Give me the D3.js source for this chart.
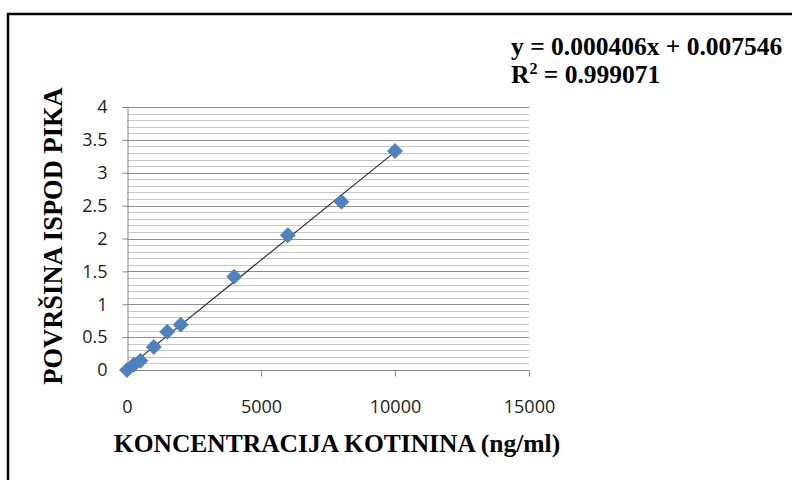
<!DOCTYPE html>
<html>
<head>
<meta charset="utf-8">
<script src="https://cdn.jsdelivr.net/npm/d3@7"></script>
<style>
  html, body { margin: 0; padding: 0; background: #fff; }
  svg { display: block; }
</style>
</head>
<body>
<svg id="chart" width="792" height="480"></svg>
<script>
// Calibration data: cotinine concentration vs. peak area
const concentrations = [0, 250, 500, 1000, 1500, 2000, 4000, 6000, 8000, 10000];
const peakAreas      = [0, 0.08, 0.14, 0.35, 0.58, 0.69, 1.42, 2.05, 2.56, 3.33];

const xTicks = [0, 5000, 10000, 15000];
const yTicks = [0, 0.5, 1, 1.5, 2, 2.5, 3, 3.5, 4];
const yMinorStep = 0.1;

const equationText = "y = 0.000406x + 0.007546";
const r2Value = "0.999071";
const xTitle = "KONCENTRACIJA KOTININA (ng/ml)";
const yTitle = "POVRŠINA ISPOD PIKA";

const svg = d3.select("#chart");
const W = 792, H = 480;

const plot = { left: 127, right: 529, top: 107, bottom: 370 };

const x = d3.scaleLinear().domain([0, 15000]).range([plot.left, plot.right]);
const y = d3.scaleLinear().domain([0, 4]).range([plot.bottom, plot.top]);

// Outer frame (left and top edges visible)
svg.append("path")
  .attr("d", `M8,${H} L8,14 L${W},14`)
  .attr("fill", "none")
  .attr("stroke", "#000")
  .attr("stroke-width", 2.5);

// Minor gridlines
const minor = d3.range(0, 4 + 1e-9, yMinorStep).filter(v => Math.abs(v * 2 - Math.round(v * 2)) > 1e-6);
svg.append("g").selectAll("line").data(minor).join("line")
  .attr("x1", plot.left).attr("x2", plot.right)
  .attr("y1", d => Math.round(y(d)) + 0.5).attr("y2", d => Math.round(y(d)) + 0.5)
  .attr("stroke", "#c6c6c6").attr("stroke-width", 1);

// Major gridlines
svg.append("g").selectAll("line").data(yTicks.filter(v => v > 0)).join("line")
  .attr("x1", plot.left).attr("x2", plot.right)
  .attr("y1", d => Math.round(y(d)) + 0.5).attr("y2", d => Math.round(y(d)) + 0.5)
  .attr("stroke", "#8e8e8e").attr("stroke-width", 1);

// Axes
const axisColor = "#868686";
const yAxis = svg.append("g")
  .attr("transform", `translate(${plot.left + 0.5},0)`)
  .call(d3.axisLeft(y).tickValues(yTicks).tickSize(5).tickPadding(15).tickFormat(d3.format("")));
const xAxis = svg.append("g")
  .attr("transform", `translate(0,${plot.bottom + 0.5})`)
  .call(d3.axisBottom(x).tickValues(xTicks).tickSize(6).tickPadding(24).tickFormat(d3.format("")));

[yAxis, xAxis].forEach(g => {
  g.select(".domain").attr("stroke", axisColor);
  g.selectAll(".tick line").attr("stroke", axisColor);
  g.selectAll(".tick text")
    .attr("fill", "#222")
    .style("font-family", "'Open Sans', sans-serif")
    .style("font-size", "18px");
});
xAxis.select(".domain").attr("d", `M${plot.left},0H${plot.right}`);

// Least-squares trendline through the calibration points
const n = concentrations.length;
const mx = d3.mean(concentrations), my = d3.mean(peakAreas);
let sxy = 0, sxx = 0;
for (let i = 0; i < n; i++) {
  sxy += (concentrations[i] - mx) * (peakAreas[i] - my);
  sxx += (concentrations[i] - mx) ** 2;
}
const slope = sxy / sxx, intercept = my - slope * mx;
const x0 = d3.min(concentrations), x1 = d3.max(concentrations);
svg.append("line")
  .attr("x1", x(x0)).attr("y1", y(intercept + slope * x0))
  .attr("x2", x(x1)).attr("y2", y(intercept + slope * x1))
  .attr("stroke", "#333").attr("stroke-width", 1.2);

// Diamond markers
const pts = concentrations.map((c, i) => [c, peakAreas[i]]);
svg.append("g").selectAll("path").data(pts).join("path")
  .attr("transform", d => `translate(${x(d[0])},${y(d[1])})`)
  .attr("d", "M0,-7.5L7.5,0L0,7.5L-7.5,0Z")
  .attr("fill", "#4f81bd")
  .attr("stroke", "#4a7ab3")
  .attr("stroke-width", 0.8);

// Axis titles
const serif = "'Liberation Serif', 'Times New Roman', serif";
svg.append("text")
  .attr("x", (plot.left + plot.right) / 2 + 9).attr("y", 452)
  .attr("text-anchor", "middle")
  .style("font-family", serif).style("font-weight", "bold").style("font-size", "25.5px")
  .text(xTitle);

svg.append("text")
  .attr("transform", `translate(62,236) rotate(-90)`)
  .attr("text-anchor", "middle")
  .style("font-family", serif).style("font-weight", "bold").style("font-size", "26.5px")
  .text(yTitle);

// Regression equation and coefficient of determination
const eq = svg.append("g").style("font-family", serif).style("font-weight", "bold").style("font-size", "25.5px");
eq.append("text").attr("x", 511).attr("y", 55).text(equationText);
const r2 = eq.append("text").attr("x", 511).attr("y", 83);
r2.append("tspan").text("R");
r2.append("tspan").attr("dy", -9).style("font-size", "16px").text("2");
r2.append("tspan").attr("dy", 9).text(" = " + r2Value);
</script>
</body>
</html>
